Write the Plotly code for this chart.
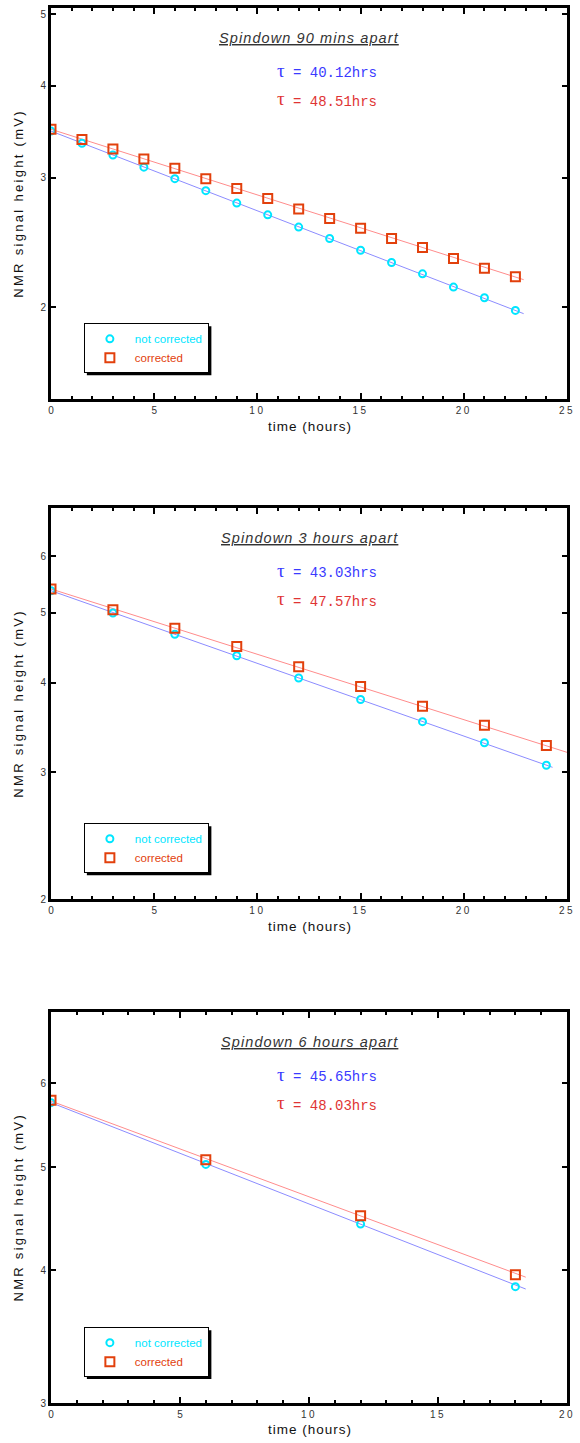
import math
import plotly.graph_objects as go

# ---------------- data ----------------
# Panel 1: spindown 90 mins apart
t1 = [0, 1.5, 3, 4.5, 6, 7.5, 9, 10.5, 12, 13.5, 15, 16.5, 18, 19.5, 21, 22.5]
nc1 = [3.47, 3.34, 3.22, 3.10, 2.99, 2.88, 2.77, 2.67, 2.57, 2.48, 2.39, 2.30, 2.22, 2.13, 2.06, 1.98]
c1 = [3.49, 3.38, 3.28, 3.18, 3.09, 2.99, 2.90, 2.81, 2.72, 2.64, 2.56, 2.48, 2.41, 2.33, 2.26, 2.20]
fit_t1_nc = [0, 22.9]
fit_nc1 = [3.47, 1.96]
fit_t1_c = [0, 22.9]
fit_c1 = [3.49, 2.18]

# Panel 2: spindown 3 hours apart
t2 = [0, 3, 6, 9, 12, 15, 18, 21, 24]
nc2 = [5.37, 5.00, 4.67, 4.36, 4.06, 3.79, 3.53, 3.30, 3.07]
c2 = [5.40, 5.05, 4.76, 4.49, 4.21, 3.95, 3.71, 3.49, 3.27]
fit_t2_nc = [0, 24.3]
fit_nc2 = [5.37, 3.05]
fit_t2_c = [0, 25]
fit_c2 = [5.40, 3.20]

# Panel 3: spindown 6 hours apart
t3 = [0, 6, 12, 18]
nc3 = [5.75, 5.03, 4.42, 3.86]
c3 = [5.78, 5.08, 4.50, 3.96]
fit_t3_nc = [0, 18.4]
fit_nc3 = [5.75, 3.84]
fit_t3_c = [0, 18.4]
fit_c3 = [5.77, 3.94]

titles = ["Spindown 90 mins apart", "Spindown 3 hours apart", "Spindown 6 hours apart"]
tau_nc = ["40.12", "43.03", "45.65"]
tau_c = ["48.51", "47.57", "48.03"]
x_ranges = [[0, 25], [0, 25], [0, 20]]
x_ticks = [[0, 5, 10, 15, 20, 25], [0, 5, 10, 15, 20, 25], [0, 5, 10, 15, 20]]
y_ranges = [[1.5, 5.1], [2, 7], [3, 7]]
y_ticks = [[2, 3, 4, 5], [2, 3, 4, 5, 6], [3, 4, 5, 6]]
x_label = "time (hours)"
y_label = "NMR signal height (mV)"
legend_names = ["not corrected", "corrected"]

# ---------------- style ----------------
W, H = 580, 1443
ML, MR, MT, MB = 51, 11, 5, 40
PW = W - ML - MR
PH = H - MT - MB


def px(x):
    return (x - ML) / PW


def py(y):
    return (H - MB - y) / PH


def spaced(s, sp):
    return '<span style="letter-spacing:%spx">%s</span>' % (sp, s)


panel_tops = [5, 506, 1011]
panel_h = 392

CYAN = "#00e6ff"
ORANGE = "#e2400c"
BLUE_LINE = "#8c8cff"
RED_LINE = "#ff8c8c"
BLUE_TXT = "#3a3aff"
RED_TXT = "#e03434"
SANS = "Liberation Sans, Arial, sans-serif"
MONO = "Liberation Mono, Courier New, monospace"
SERIF = "Liberation Serif, Times New Roman, serif"

fig = go.Figure()

data = [
    (t1, nc1, c1, fit_t1_nc, fit_nc1, fit_t1_c, fit_c1),
    (t2, nc2, c2, fit_t2_nc, fit_nc2, fit_t2_c, fit_c2),
    (t3, nc3, c3, fit_t3_nc, fit_nc3, fit_t3_c, fit_c3),
]

annotations = []
shapes = []
layout_axes = {}

for i, (t, nc, c, ftn, fn, ftc, fc) in enumerate(data):
    k = "" if i == 0 else str(i + 1)
    xa, ya = "x" + k, "y" + k
    leg = "legend" + k
    fig.add_trace(go.Scatter(x=ftn, y=fn, mode="lines", line=dict(color=BLUE_LINE, width=1),
                             xaxis=xa, yaxis=ya, showlegend=False, hoverinfo="skip"))
    fig.add_trace(go.Scatter(x=ftc, y=fc, mode="lines", line=dict(color=RED_LINE, width=1),
                             xaxis=xa, yaxis=ya, showlegend=False, hoverinfo="skip"))
    fig.add_trace(go.Scatter(x=t, y=nc, mode="markers",
                             marker=dict(symbol="circle-open", size=7, color=CYAN, line=dict(width=2, color=CYAN)),
                             name='<span style="color:%s">%s</span>' % (CYAN, legend_names[0]),
                             xaxis=xa, yaxis=ya, legend=leg))
    fig.add_trace(go.Scatter(x=t, y=c, mode="markers",
                             marker=dict(symbol="square-open", size=9, color=ORANGE, line=dict(width=2, color=ORANGE)),
                             name='<span style="color:%s">%s</span>' % (ORANGE, legend_names[1]),
                             xaxis=xa, yaxis=ya, legend=leg))

    top = panel_tops[i]
    bot = top + panel_h
    dom = [py(bot), py(top)]
    layout_axes["xaxis" + k] = dict(
        domain=[0, 1], anchor=ya, range=x_ranges[i],
        tickmode="array", tickvals=x_ticks[i],
        ticktext=[spaced(str(v), 2.5) if v >= 10 else str(v) for v in x_ticks[i]],
        ticks="inside", ticklen=6, tickwidth=1.5, tickcolor="black",
        minor=dict(dtick=1, tick0=0, ticks="inside", ticklen=3, tickwidth=1.5, tickcolor="black", showgrid=False),
        showline=True, linewidth=3, linecolor="black", mirror="allticks",
        showgrid=False, zeroline=False, ticklabeloverflow="allow",
        tickfont=dict(family=SANS, size=10, color="#333333"),
    )
    layout_axes["yaxis" + k] = dict(
        domain=dom, anchor=xa, type="log",
        range=[math.log10(y_ranges[i][0]), math.log10(y_ranges[i][1])],
        tickvals=y_ticks[i], ticktext=[str(v) for v in y_ticks[i]],
        ticks="inside", ticklen=5, tickwidth=1.5, tickcolor="black",
        showline=True, linewidth=3, linecolor="black", mirror="allticks",
        showgrid=False, zeroline=False, ticklabeloverflow="allow",
        tickfont=dict(family=SANS, size=10, color="#333333"),
    )

    # title
    annotations.append(dict(x=px(310), y=py(top + 30), xref="paper", yref="paper",
                            text=spaced(titles[i], 1.1), showarrow=False, xanchor="center", yanchor="middle",
                            font=dict(family=SANS, size=14.5, color="#333333", style="italic", lineposition="under")))
    # tau lines
    for j, (val, col) in enumerate([(tau_nc[i], BLUE_TXT), (tau_c[i], RED_TXT)]):
        yy = top + 63 + j * 28
        annotations.append(dict(x=px(282), y=py(yy), xref="paper", yref="paper", text="τ",
                                showarrow=False, xanchor="center", yanchor="middle",
                                font=dict(family=SERIF, size=19, color=col)))
        annotations.append(dict(x=px(292), y=py(yy + 2 + j), xref="paper", yref="paper",
                                text="= " + val + "hrs",
                                showarrow=False, xanchor="left", yanchor="middle",
                                font=dict(family=MONO, size=14, color=col)))
    # axis labels
    annotations.append(dict(x=px(311), y=py(bot + 27), xref="paper", yref="paper",
                            text=spaced(x_label, 1.0),
                            showarrow=False, xanchor="center", yanchor="middle",
                            font=dict(family=SANS, size=13.5, color="#111111")))
    annotations.append(dict(x=px(18), y=py(top + panel_h / 2), xref="paper", yref="paper",
                            text=spaced(y_label, 2.3),
                            showarrow=False, xanchor="center", yanchor="middle", textangle=-90,
                            font=dict(family=SANS, size=13, color="#111111")))

    # legend + drop shadow
    lx0, ly0 = 84, top + 316
    lw, lh = 125, 49
    shapes.append(dict(type="rect", xref="paper", yref="paper", layer="above",
                       x0=px(lx0 + 3), x1=px(lx0 + lw + 3), y0=py(ly0 + lh + 3), y1=py(ly0 + 3),
                       fillcolor="black", line=dict(width=0)))
    layout_axes[leg] = dict(
        x=px(lx0), y=py(ly0), xanchor="left", yanchor="top",
        bgcolor="white", bordercolor="black", borderwidth=1,
        font=dict(family=SANS, size=11.5, color="#333333"),
        itemwidth=40, tracegroupgap=0, itemclick=False, itemdoubleclick=False,
    )

fig.update_layout(
    width=W, height=H,
    margin=dict(l=ML, r=MR, t=MT, b=MB),
    paper_bgcolor="white", plot_bgcolor="white",
    showlegend=True,
    annotations=annotations,
    shapes=shapes,
    **layout_axes,
)

fig.write_html("out.html", config={"displayModeBar": False},
               post_script="document.body.style.margin='0';")
